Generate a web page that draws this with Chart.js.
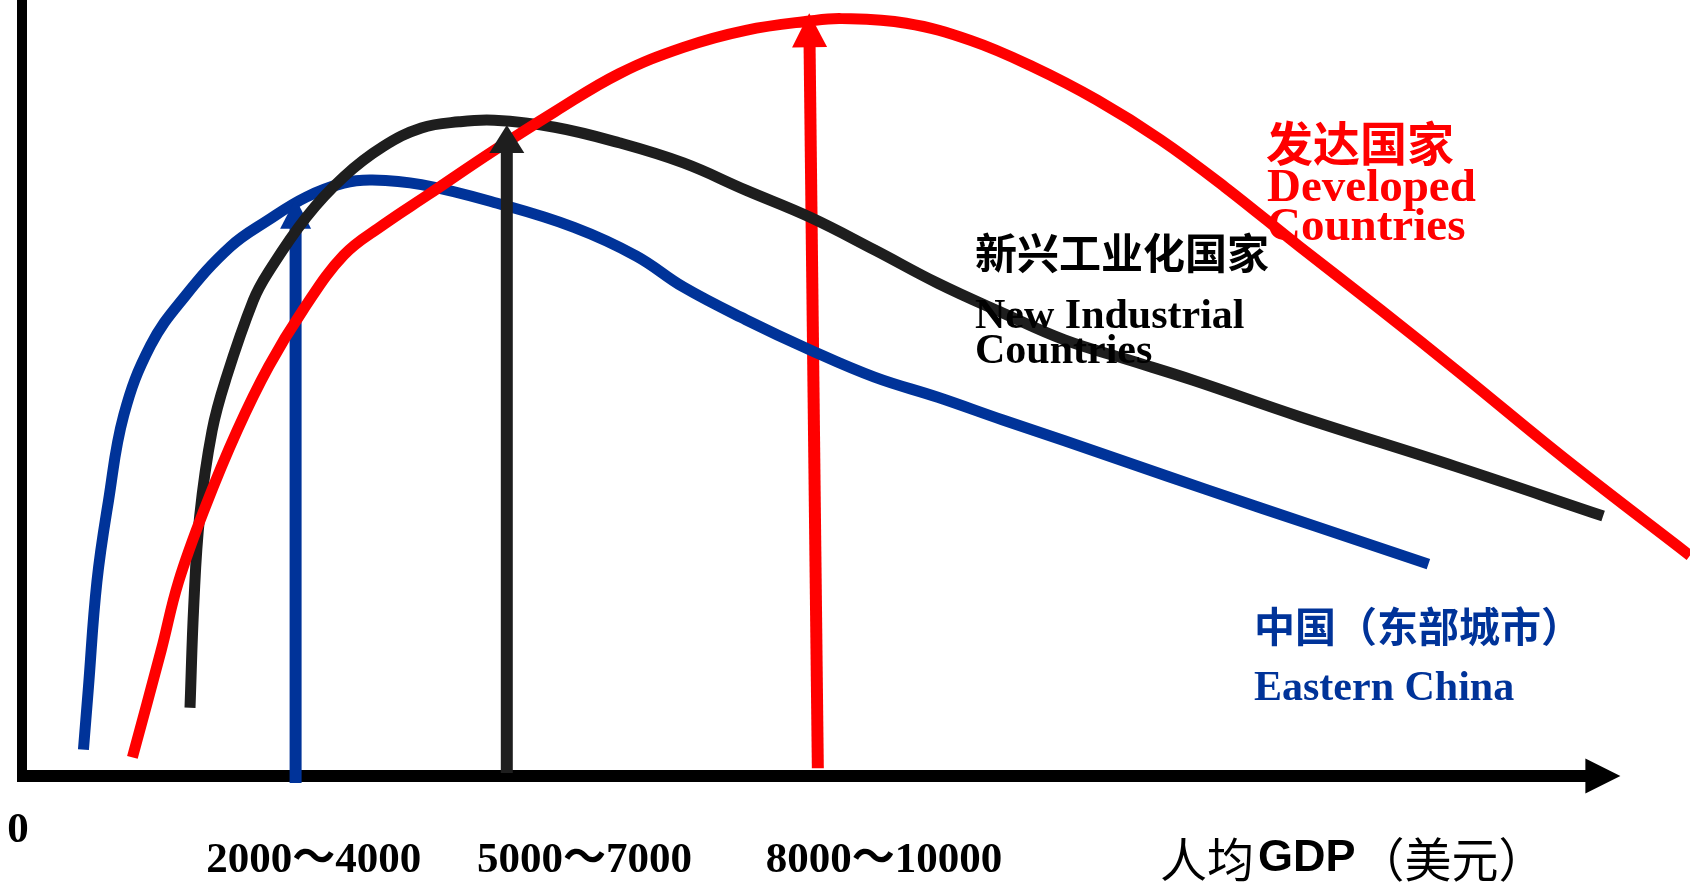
<!DOCTYPE html>
<html>
<head>
<meta charset="utf-8">
<title>人均GDP与发展阶段曲线</title>
<script src="https://cdn.jsdelivr.net/npm/chart.js@4.4.1/dist/chart.umd.min.js"></script>
<style>
  html, body { margin: 0; padding: 0; background: #fff; overflow: hidden; }
  canvas { display: block; }
</style>
</head>
<body>
<canvas id="chart" width="1690" height="882"></canvas>
<script>
// x: per-capita GDP (thousand USD, schematic), y: relative index (0-100)

// 中国（东部城市） Eastern China
const easternChinaX = [0.64, 0.69, 0.78, 0.90, 1.06, 1.34, 1.69, 2.17, 2.56, 2.96, 3.35, 3.65, 4.16, 4.95, 5.75, 6.40, 6.89, 7.54, 8.21, 8.88, 9.54, 10.21, 10.86, 11.54, 12.34, 13.47, 14.65];
const easternChinaY = [3.4, 11.1, 25.0, 35.4, 46.5, 55.5, 61.7, 68.2, 71.6, 74.6, 76.4, 76.8, 76.2, 73.8, 70.7, 67.0, 63.0, 58.8, 54.9, 51.4, 48.8, 45.9, 43.2, 40.3, 36.9, 32.2, 27.3];

// 新兴工业化国家 New Industrial Countries
const newIndustrialX = [1.75, 1.79, 1.85, 1.98, 2.13, 2.41, 2.56, 2.96, 3.35, 3.76, 4.16, 4.55, 4.92, 5.55, 6.22, 6.89, 7.54, 8.21, 8.88, 9.54, 10.21, 10.86, 11.53, 12.20, 13.31, 14.93, 16.47];
const newIndustrialY = [8.8, 22.2, 33.4, 44.5, 51.4, 61.3, 64.8, 72.0, 77.2, 81.1, 83.5, 84.3, 84.5, 83.6, 81.6, 79.0, 75.5, 72.0, 67.8, 63.5, 59.7, 56.2, 53.6, 51.0, 46.3, 39.9, 33.5];

// 发达国家 Developed Countries
const developedX = [1.15, 1.45, 1.63, 1.91, 2.24, 2.57, 2.93, 3.35, 3.76, 4.23, 4.89, 5.55, 6.22, 6.89, 7.54, 8.21, 8.54, 9.21, 9.88, 10.53, 11.20, 11.86, 12.53, 13.31, 14.15, 14.98, 16.09, 17.375];
const developedY = [2.4, 16.2, 25.0, 34.7, 44.5, 52.8, 60.1, 67.1, 71.0, 74.9, 80.4, 85.6, 90.5, 93.9, 96.1, 97.3, 97.6, 97.0, 94.8, 91.4, 87.1, 82.0, 75.9, 68.2, 60.1, 51.9, 40.7, 28.4];

// Turning-point arrows: blue, black, red (bottom x, top x, bottom y, tip y)
const arrowBottomX = [2.85, 5.05, 8.29];
const arrowTopX    = [2.85, 5.05, 8.20];
const arrowBottomY = [-0.9, 0.4, 1.0];
const arrowTipY    = [74.4, 83.9, 98.3];

// GDP range tick labels and their positions on the x axis
const tickLabels = ['2000～4000', '5000～7000', '8000～10000'];
const tickValues = [3.04, 5.86, 8.98];
const originLabel = '0';
const axisTitle = ['人均', 'GDP', '（美元）'];

const BLUE = '#003399';
const BLACK = '#1e1e1e';
const RED = '#ff0000';

const toPoints = (xs, ys) => xs.map((x, i) => ({ x, y: ys[i] }));

function drawArrow(ctx, x0, y0, x1, y1, color, shaftW, headL, headW) {
  const dx = x1 - x0, dy = y1 - y0;
  const len = Math.hypot(dx, dy);
  const ux = dx / len, uy = dy / len;
  const bx = x1 - ux * headL, by = y1 - uy * headL;
  ctx.save();
  ctx.strokeStyle = color;
  ctx.fillStyle = color;
  ctx.lineWidth = shaftW;
  ctx.lineCap = 'butt';
  ctx.beginPath();
  ctx.moveTo(x0, y0);
  ctx.lineTo(bx + ux, by + uy);
  ctx.stroke();
  ctx.beginPath();
  ctx.moveTo(x1, y1);
  ctx.lineTo(bx - uy * headW / 2, by + ux * headW / 2);
  ctx.lineTo(bx + uy * headW / 2, by - ux * headW / 2);
  ctx.closePath();
  ctx.fill();
  ctx.restore();
}

function drawValueArrow(chart, i, color, headL, headW) {
  const xs = chart.scales.x, ys = chart.scales.y;
  drawArrow(chart.ctx,
    xs.getPixelForValue(arrowBottomX[i]), ys.getPixelForValue(arrowBottomY[i]),
    xs.getPixelForValue(arrowTopX[i]), ys.getPixelForValue(arrowTipY[i]),
    color, 12, headL, headW);
}

const annotationPlugin = {
  id: 'schematicAnnotations',
  beforeDatasetsDraw(chart) {
    const ctx = chart.ctx;
    const xs = chart.scales.x, ys = chart.scales.y;
    // vertical axis
    ctx.save();
    ctx.strokeStyle = '#000';
    ctx.lineWidth = 10;
    ctx.beginPath();
    ctx.moveTo(xs.getPixelForValue(0), ys.getPixelForValue(-0.77));
    ctx.lineTo(xs.getPixelForValue(0), ys.getPixelForValue(ys.max));
    ctx.stroke();
    ctx.restore();
    // horizontal axis with arrowhead
    drawArrow(ctx, xs.getPixelForValue(-0.05), ys.getPixelForValue(0),
      xs.getPixelForValue(16.65), ys.getPixelForValue(0), '#000', 12, 35, 35);
    // developed-country turning point arrow
    drawValueArrow(chart, 2, RED, 34, 35);
  },
  afterDatasetDraw(chart, args) {
    if (args.index === 0) drawValueArrow(chart, 0, BLUE, 30, 31);
    if (args.index === 2) drawValueArrow(chart, 1, BLACK, 28, 35);
  },
  afterDraw(chart) {
    const ctx = chart.ctx;
    const xs = chart.scales.x;
    const serif = "'Liberation Serif', 'Times New Roman', 'Noto Sans CJK SC', serif";
    const cjk = "'Noto Sans CJK SC', sans-serif";
    ctx.save();

    // origin and range labels
    ctx.fillStyle = '#000';
    ctx.textAlign = 'center';
    ctx.textBaseline = 'middle';
    ctx.font = 'bold 43px ' + serif;
    ctx.fillText(originLabel, 18, 831);
    tickLabels.forEach((t, i) => ctx.fillText(t, xs.getPixelForValue(tickValues[i]), 861));

    // axis title: 人均GDP（美元）
    ctx.textAlign = 'left';
    let tx = 1160;
    ctx.font = '47px ' + cjk;
    ctx.fillText(axisTitle[0], tx, 859);
    tx += ctx.measureText(axisTitle[0]).width;
    ctx.font = "bold 45px 'Liberation Sans', Arial, sans-serif";
    ctx.fillText(axisTitle[1], tx + 4, 859);
    tx += ctx.measureText(axisTitle[1]).width + 6;
    ctx.font = '47px ' + cjk;
    ctx.fillText(axisTitle[2], tx, 859);

    // series labels
    ctx.textAlign = 'left';
    ctx.fillStyle = RED;
    ctx.textBaseline = 'middle';
    ctx.font = 'bold 47px ' + cjk;
    ctx.fillText('发达国家', 1266, 143);
    ctx.textBaseline = 'alphabetic';
    ctx.font = 'bold 47px ' + serif;
    ctx.fillText('Developed', 1267, 201);
    ctx.fillText('Countries', 1267, 240);

    ctx.fillStyle = '#000';
    ctx.textBaseline = 'middle';
    ctx.font = 'bold 42px ' + cjk;
    ctx.fillText('新兴工业化国家', 975, 253);
    ctx.textBaseline = 'alphabetic';
    ctx.font = 'bold 42px ' + serif;
    ctx.fillText('New Industrial', 975, 328);
    ctx.fillText('Countries', 975, 363);

    ctx.fillStyle = BLUE;
    ctx.textBaseline = 'middle';
    ctx.font = 'bold 41px ' + cjk;
    ctx.fillText('中国（东部城市）', 1254, 626);
    ctx.textBaseline = 'alphabetic';
    ctx.font = 'bold 42px ' + serif;
    ctx.fillText('Eastern China', 1254, 700);

    ctx.restore();
  }
};

const lineStyle = {
  showLine: true,
  pointRadius: 0,
  pointHoverRadius: 0,
  borderWidth: 11,
  tension: 0.4,
  fill: false,
  clip: false,
  borderCapStyle: 'butt',
  borderJoinStyle: 'round'
};

new Chart(document.getElementById('chart'), {
  type: 'scatter',
  data: {
    datasets: [
      { label: '中国（东部城市） Eastern China', data: toPoints(easternChinaX, easternChinaY), borderColor: BLUE, backgroundColor: BLUE, order: 3, ...lineStyle },
      { label: '新兴工业化国家 New Industrial Countries', data: toPoints(newIndustrialX, newIndustrialY), borderColor: BLACK, backgroundColor: BLACK, order: 2, ...lineStyle },
      { label: '发达国家 Developed Countries', data: toPoints(developedX, developedY), borderColor: RED, backgroundColor: RED, order: 1, ...lineStyle }
    ]
  },
  options: {
    responsive: false,
    animation: false,
    devicePixelRatio: 1,
    layout: { padding: { left: 22, right: 0, top: 0, bottom: 106 } },
    scales: {
      x: { type: 'linear', min: 0, max: 17.375, display: false },
      y: { type: 'linear', min: 0, max: 100, display: false }
    },
    plugins: {
      legend: { display: false },
      tooltip: { enabled: false }
    }
  },
  plugins: [annotationPlugin]
});
</script>
</body>
</html>
